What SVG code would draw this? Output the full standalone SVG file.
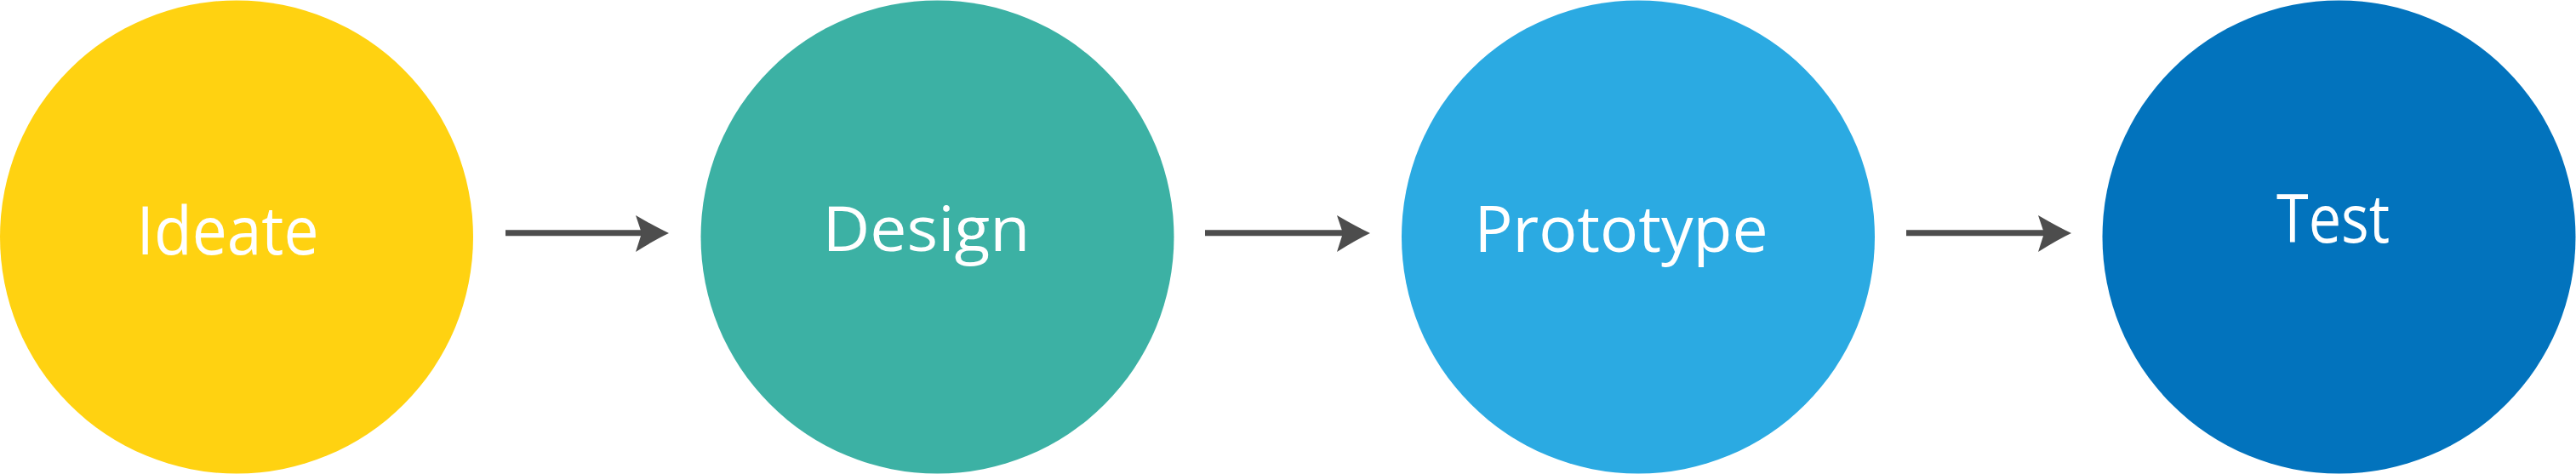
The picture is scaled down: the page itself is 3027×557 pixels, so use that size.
<svg xmlns="http://www.w3.org/2000/svg" width="3027" height="557" viewBox="0 0 3027 557">
  <style>
    .lbl { font-family: "Open Sans", "Noto Sans", sans-serif; fill: #ffffff; font-weight: 400; }
    .shaft { stroke: #4d4d4d; stroke-width: 7; fill: none; }
    .head { fill: #4d4d4d; }
  </style>
  <defs>
    <path id="arrowhead" class="head" d="M747,253 Q770,266.5 786,274 Q770,281.5 747,296 L754,274 Z"/>
  </defs>
  <rect width="3027" height="557" fill="#ffffff"/>
  <g id="node-ideate">
    <circle cx="278" cy="278.5" r="278" fill="#ffd211"/>
    <text class="lbl" x="160.5" y="299" font-size="78" textLength="214" lengthAdjust="spacingAndGlyphs">Ideate</text>
  </g>
  <g id="node-design">
    <circle cx="1101.5" cy="278.5" r="278" fill="#3cb1a4"/>
    <text class="lbl" x="966.5" y="295" font-size="74" textLength="244" lengthAdjust="spacingAndGlyphs">Design</text>
  </g>
  <g id="node-prototype">
    <circle cx="1925" cy="278.5" r="278" fill="#2baae2"/>
    <text class="lbl" x="1732.5" y="296" font-size="75" textLength="345" lengthAdjust="spacingAndGlyphs">Prototype</text>
  </g>
  <g id="node-test">
    <circle cx="2748.5" cy="278.5" r="278" fill="#0273bd"/>
    <text class="lbl" x="2675" y="285" font-size="78" textLength="133" lengthAdjust="spacingAndGlyphs">Test</text>
  </g>
  <g id="connectors">
    <line class="shaft" x1="594" y1="273.8" x2="756" y2="273.8"/>
    <use href="#arrowhead"/>
    <line class="shaft" x1="1416" y1="273.8" x2="1580" y2="273.8"/>
    <use href="#arrowhead" transform="translate(824,0)"/>
    <line class="shaft" x1="2240" y1="273.8" x2="2404" y2="273.8"/>
    <use href="#arrowhead" transform="translate(1648,0)"/>
  </g>
</svg>
